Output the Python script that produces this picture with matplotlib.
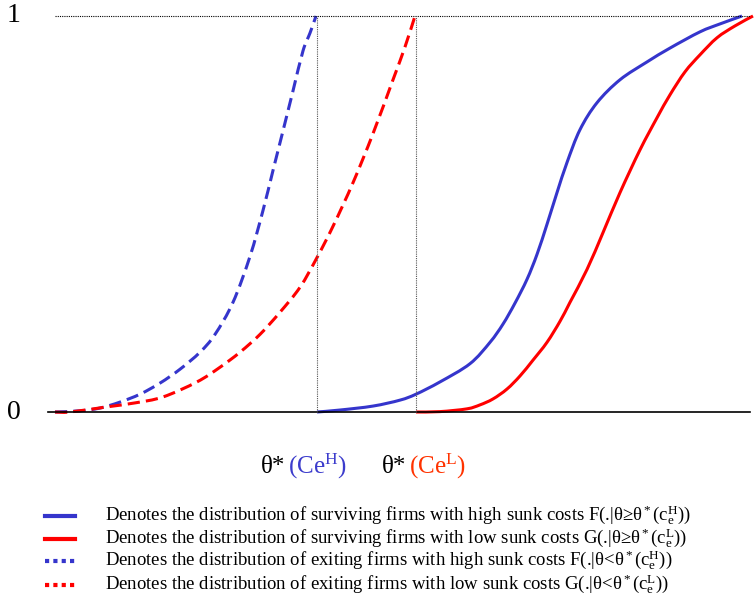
import matplotlib
matplotlib.use("Agg")
import numpy as np
import matplotlib.pyplot as plt
from matplotlib.path import Path
from matplotlib.patches import PathPatch

plt.rcParams['font.family'] = ['Liberation Serif', 'DejaVu Serif']
plt.rcParams['mathtext.fontset'] = 'custom'
plt.rcParams['mathtext.rm'] = 'Liberation Serif'
plt.rcParams['mathtext.it'] = 'Liberation Serif:italic'

BLUE = '#3535cc'
RED = '#ff0000'

# cut-off productivity for high and low sunk costs
theta_H = 317
theta_L = 416
theta_min = 55
theta_max = 750

# exiting firms, high sunk costs (dashed blue)
exit_h_x = [55, 80, 100, 120, 140, 160, 180, 200, 215, 233, 250, 263, 273, 283, 293, 303, 310, 316]
exit_h_y = [0.000, 0.003, 0.010, 0.025, 0.045, 0.073, 0.108, 0.151, 0.196, 0.277,
            0.393, 0.509, 0.610, 0.710, 0.811, 0.912, 0.957, 1.000]

# exiting firms, low sunk costs (dashed red)
exit_l_x = [55, 70, 107, 135, 163, 197, 220, 240, 260, 280, 300, 317, 333, 353, 373, 393, 405, 415]
exit_l_y = [0.000, 0.000, 0.013, 0.023, 0.038, 0.076, 0.113, 0.151, 0.196, 0.252,
            0.315, 0.390, 0.469, 0.579, 0.703, 0.839, 0.922, 1.000]

# surviving firms, high sunk costs (solid blue)
surv_h_x = [317, 340, 373, 400, 416, 440, 470, 490, 503, 515, 527, 537, 547, 557, 567,
            580, 597, 620, 647, 670, 700, 720, 742]
surv_h_y = [0.000, 0.005, 0.015, 0.030, 0.045, 0.076, 0.122, 0.176, 0.222, 0.275, 0.335,
            0.398, 0.474, 0.554, 0.630, 0.713, 0.781, 0.839, 0.884, 0.919, 0.960, 0.980, 1.000]

# surviving firms, low sunk costs (solid red)
surv_l_x = [416, 440, 467, 480, 493, 507, 520, 533, 547, 560, 570, 587, 603, 620, 640,
            657, 670, 685, 700, 717, 735, 753]
surv_l_y = [0.000, 0.001, 0.008, 0.018, 0.033, 0.058, 0.091, 0.131, 0.176, 0.229, 0.277,
            0.360, 0.453, 0.554, 0.662, 0.743, 0.801, 0.859, 0.902, 0.945, 0.975, 1.000]

legend_labels = [
    r"Denotes the distribution of surviving firms with high sunk costs F(.|θ≥θ$^*$($\mathrm{c_e^H}$))",
    r"Denotes the distribution of surviving firms with low sunk costs G(.|θ≥θ$^*$($\mathrm{c_e^L}$))",
    r"Denotes the distribution of exiting firms with high sunk costs F(.|θ<θ$^*$($\mathrm{c_e^H}$))",
    r"Denotes the distribution of exiting firms with low sunk costs G(.|θ<θ$^*$($\mathrm{c_e^L}$))",
]
legend_colors = [BLUE, RED, BLUE, RED]
legend_styles = ['-', '-', (0, (1, 1)), (0, (1, 1))]


def smooth_path(xs, ys):
    # Catmull-Rom through the points, written as cubic Bezier segments
    p = np.column_stack([xs, ys]).astype(float)
    p = np.vstack([p[0], p, p[-1]])
    verts = [p[1]]
    codes = [Path.MOVETO]
    for i in range(1, len(p) - 2):
        c1 = p[i] + (p[i + 1] - p[i - 1]) / 6
        c2 = p[i + 1] - (p[i + 2] - p[i]) / 6
        verts += [c1, c2, p[i + 1]]
        codes += [Path.CURVE4] * 3
    return Path(verts, codes)


def draw_curve(ax, xs, ys, color, ls):
    patch = PathPatch(smooth_path(xs, ys), fill=False, edgecolor=color,
                      lw=2.2, linestyle=ls, capstyle='butt')
    ax.add_patch(patch)


fig = plt.figure(figsize=(7.54, 6.03), dpi=100)
ax = fig.add_axes([0, 0, 1, 1])
ax.set_xlim(0, 754)
ax.set_ylim(-0.4823, 1.0404)
ax.axis('off')

# frame: baseline, top dotted line, cut-off verticals
ax.plot([48, theta_max], [0, 0], color='black', lw=1.2)
ax.plot([theta_min, theta_max], [1, 1], color='black', lw=0.8, ls=(0, (1, 1)))
for t in (theta_H, theta_L):
    ax.plot([t, t], [0, 1], color='#555555', lw=0.8, ls=(0, (1, 1)))

draw_curve(ax, exit_h_x, exit_h_y, BLUE, (0, (4, 2)))
draw_curve(ax, exit_l_x, exit_l_y, RED, (0, (4, 2)))
draw_curve(ax, surv_h_x, surv_h_y, BLUE, '-')
draw_curve(ax, surv_l_x, surv_l_y, RED, '-')

ax.text(14, 1.0, "1", fontsize=20, ha='center', va='center')
ax.text(14, 0.0, "0", fontsize=20, ha='center', va='center')

# cut-off labels under the axis
ly = -0.138
ax.text(261, ly, "θ*", fontsize=18, ha='left', va='center')
ax.text(288, ly, r"$\mathrm{(Ce^H)}$", fontsize=18, color='#3c3ccc', ha='left', va='center')
ax.text(382, ly, "θ*", fontsize=18, ha='left', va='center')
ax.text(409, ly, r"$\mathrm{(Ce^L)}$", fontsize=18, color='#ff3300', ha='left', va='center')

# legend rows
row_y = [-0.262, -0.320, -0.375, -0.436]
for y, lab, col, st in zip(row_y, legend_labels, legend_colors, legend_styles):
    ax.plot([45, 75], [y, y], color=col, lw=3, ls=st)
    ax.text(105, y, lab, fontsize=13.5, ha='left', va='center')

fig.savefig('out.png', dpi=100)
plt.close(fig)
